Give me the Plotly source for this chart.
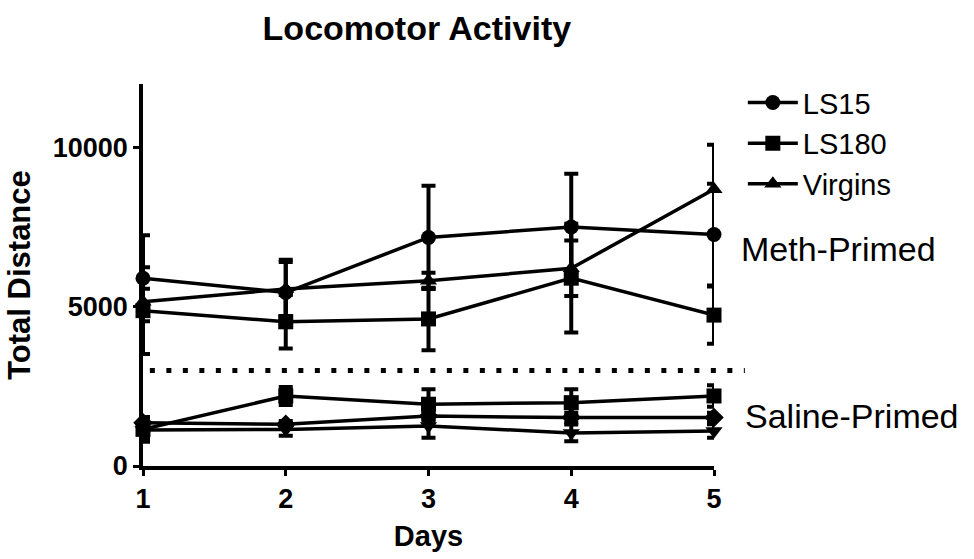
import plotly.graph_objects as go

days = [1, 2, 3, 4, 5]

# Meth-primed groups (mean, SEM)
meth_ls15 = [5900, 5450, 7180, 7510, 7270]
meth_ls15_err = [1350, 1030, 1620, 1670, 1600]
meth_ls180 = [4880, 4530, 4620, 5900, 4740]
meth_ls180_err = [1360, 840, 980, 1710, 900]
meth_virgins = [5160, 5560, 5820, 6210, 8690]
meth_virgins_err = [410, 850, 250, 870, 1400]

# Saline-primed groups (mean, SEM)
sal_ls15 = [1360, 1310, 1570, 1520, 1520]
sal_ls15_err = [150, 100, 150, 150, 150]
sal_ls180 = [1150, 2200, 1940, 1990, 2200]
sal_ls180_err = [390, 280, 470, 420, 340]
sal_virgins = [1130, 1150, 1260, 1040, 1100]
sal_virgins_err = [250, 200, 370, 260, 210]

divider_y = 3000
y_ticks = [0, 5000, 10000]

FONT = "Arial, Liberation Sans, sans-serif"

fig = go.Figure()

def add(name, y, err, symbol, show, group):
    fig.add_trace(go.Scatter(
        x=days, y=y, name=name, mode="lines+markers",
        line=dict(color="black", width=3.5),
        marker=dict(symbol=symbol, size=15, color="black"),
        error_y=dict(type="data", array=err, visible=True, color="black",
                     thickness=4, width=7),
        showlegend=show, legendgroup=group, cliponaxis=False,
    ))

add("LS15", meth_ls15, meth_ls15_err, "circle", True, "a")
add("LS180", meth_ls180, meth_ls180_err, "square", True, "b")
add("Virgins", meth_virgins, meth_virgins_err, "triangle-up", True, "c")
add("LS15 (saline)", sal_ls15, sal_ls15_err, "diamond", False, "d")
add("LS180 (saline)", sal_ls180, sal_ls180_err, "square", False, "e")
add("Virgins (saline)", sal_virgins, sal_virgins_err, "triangle-down", False, "f")

fig.add_shape(type="line", xref="paper", yref="y",
              x0=0.012, x1=1.054, y0=divider_y, y1=divider_y,
              line=dict(color="black", width=5, dash="5px,11.5px"))

fig.add_annotation(text="Meth-Primed", xref="paper", yref="y",
                   x=1.044, y=6830, xanchor="left", yanchor="middle",
                   showarrow=False, font=dict(family=FONT, size=34, color="black"))
fig.add_annotation(text="Saline-Primed", xref="paper", yref="y",
                   x=1.05, y=1570, xanchor="left", yanchor="middle",
                   showarrow=False, font=dict(family=FONT, size=34, color="black"))

fig.update_layout(
    width=974, height=559,
    paper_bgcolor="white", plot_bgcolor="white",
    margin=dict(l=143, r=260, t=84, b=93),
    title=dict(text="<b>Locomotor Activity</b>", x=0.428, xanchor="center",
               y=0.95, yanchor="middle",
               font=dict(family=FONT, size=34, color="black")),
    font=dict(family=FONT, color="black"),
    legend=dict(x=1.0505, y=1.018, xanchor="left", yanchor="top",
                font=dict(family=FONT, size=29, color="black"),
                tracegroupgap=0, itemwidth=50, bgcolor="rgba(0,0,0,0)"),
    xaxis=dict(range=[1, 5], tickvals=days, ticks="outside", ticklen=6,
               tickwidth=3, tickcolor="black", showline=True, linewidth=3.5,
               linecolor="black", showgrid=False, zeroline=False,
               tickfont=dict(family=FONT, size=27, color="black", weight="bold"),
               title=dict(text="<b>Days</b>", font=dict(family=FONT, size=29, color="black"),
                          standoff=14)),
    yaxis=dict(range=[0, 12000], tickvals=y_ticks, ticks="outside", ticklen=6,
               tickwidth=3, tickcolor="black", showline=True, linewidth=3.5,
               linecolor="black", showgrid=False, zeroline=False,
               tickfont=dict(family=FONT, size=27, color="black", weight="bold"),
               tickformat="d",
               title=dict(text="<b>Total Distance</b>", font=dict(family=FONT, size=31, color="black"),
                          standoff=14)),
)

fig.write_html("out.html", config={"displayModeBar": False},
               post_script="document.body.style.margin='0';document.body.style.overflow='hidden';")
